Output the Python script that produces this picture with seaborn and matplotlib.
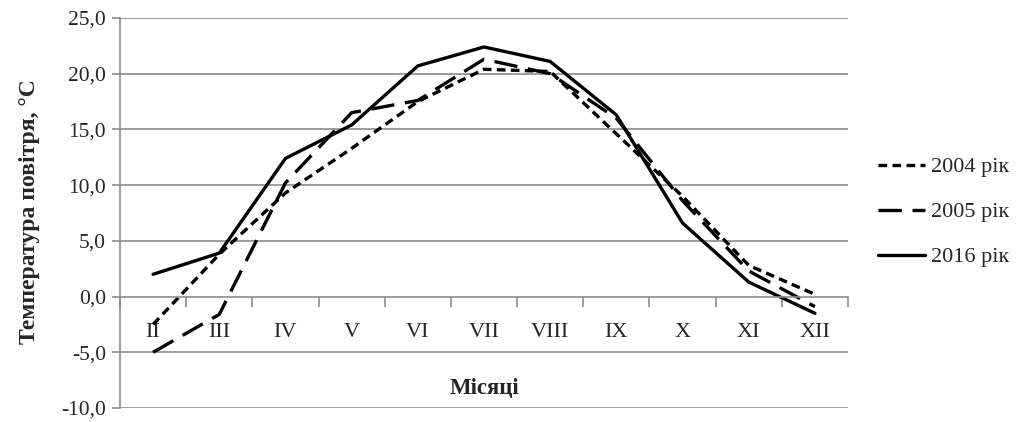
import numpy as np
import pandas as pd
import matplotlib
matplotlib.use("Agg")
import matplotlib.pyplot as plt
import matplotlib.ticker as ticker
import seaborn as sns

months = ["II", "III", "IV", "V", "VI", "VII", "VIII", "IX", "X", "XI", "XII"]
t2004 = [-2.5, 3.8, 9.3, 13.3, 17.5, 20.4, 20.2, 14.6, 9.0, 2.8, 0.2]
t2005 = [-5.0, -1.6, 10.2, 16.5, 17.6, 21.3, 20.0, 16.0, 8.6, 2.3, -0.9]
t2016 = [2.0, 3.9, 12.4, 15.4, 20.7, 22.4, 21.1, 16.3, 6.6, 1.3, -1.5]
years = ["2004 рік", "2005 рік", "2016 рік"]

df = pd.DataFrame({
    "x": list(range(len(months))) * 3,
    "t": t2004 + t2005 + t2016,
    "year": np.repeat(years, len(months)),
})

sns.set_style("white")
plt.rcParams["font.family"] = ["Liberation Serif", "DejaVu Serif"]

fig = plt.figure(figsize=(10.2, 4.22), dpi=100)
ax = fig.add_axes([120 / 1020, 1 - 408 / 422, 728 / 1020, 390 / 422])

grid = "#8c8c8c"
for v in range(-10, 30, 5):
    if v != 0:
        ax.axhline(v, color=grid, lw=1.2, zorder=0)

sns.lineplot(data=df, x="x", y="t", hue="year", style="year",
             palette=["black"] * 3,
             dashes={"2004 рік": (2.6, 1.6), "2005 рік": (7, 3.2), "2016 рік": ""},
             linewidth=2.4, ax=ax, legend=True)

ax.set_xlim(-0.5, len(months) - 0.5)
ax.set_ylim(-10, 25)
ax.yaxis.set_major_locator(ticker.MultipleLocator(5))
ax.yaxis.set_major_formatter(ticker.FuncFormatter(lambda v, p: ("%.1f" % v).replace(".", ",")))
ax.tick_params(axis="y", left=True, length=6, width=1.2, color=grid, labelsize=15.5, pad=4)

ax.spines["top"].set_visible(False)
ax.spines["right"].set_visible(False)
ax.spines["left"].set_color(grid)
ax.spines["left"].set_linewidth(1.2)
ax.spines["bottom"].set_position(("data", 0))
ax.spines["bottom"].set_color(grid)
ax.spines["bottom"].set_linewidth(1.2)

ax.xaxis.set_major_locator(ticker.FixedLocator(np.arange(-0.5, len(months), 1.0)))
ax.xaxis.set_major_formatter(ticker.NullFormatter())
ax.xaxis.set_minor_locator(ticker.FixedLocator(range(len(months))))
ax.xaxis.set_minor_formatter(ticker.FixedFormatter(months))
ax.tick_params(axis="x", which="major", bottom=True, length=7, width=1.2, color=grid, direction="out")
ax.tick_params(axis="x", which="minor", bottom=True, length=0, labelsize=16, pad=19)

ax.set_xlabel("")
ax.set_ylabel("")
ax.text(0.5, 0.05, "Місяці", transform=ax.transAxes, ha="center", va="center",
        fontsize=16.5, fontweight="bold")
fig.text(30 / 1020, 1 - 212 / 422, "Температура повітря, °C", rotation=90,
         ha="center", va="center", fontsize=17, fontweight="bold")

handles, labels = ax.get_legend_handles_labels()
ax.legend(handles, labels, loc="center left", bbox_to_anchor=(858 / 1020, 1 - 212 / 422),
          bbox_transform=fig.transFigure, frameon=False, fontsize=16,
          handlelength=2.1, handletextpad=0.3, labelspacing=1.1)

fig.savefig("out.png", dpi=100)
